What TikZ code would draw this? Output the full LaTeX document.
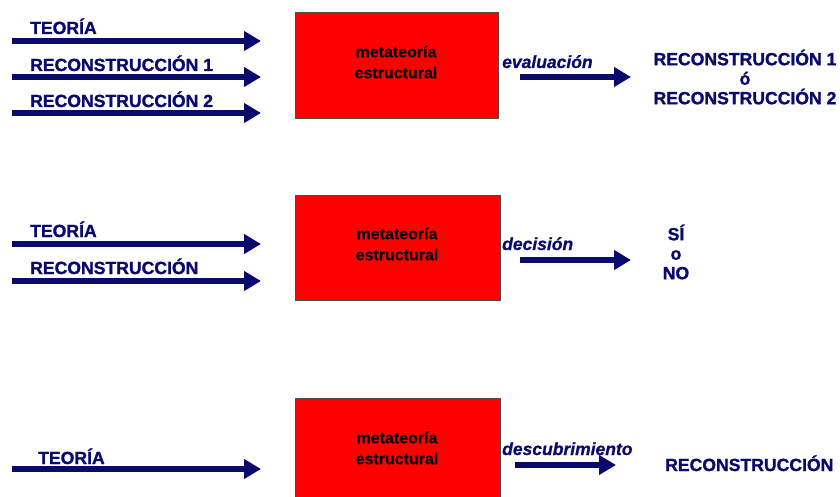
\documentclass[tikz,border=0pt]{standalone}
\usepackage{fontspec}
\setmainfont{Liberation Sans}
\newfontfamily\heavy[FakeBold=1.4]{Liberation Sans Bold}
\newfontfamily\heavyit[FakeBold=0.9]{Liberation Sans Bold Italic}
\newfontfamily\medium[FakeBold=0.3]{Liberation Sans Bold}
\usetikzlibrary{arrows.meta}
\definecolor{navy}{RGB}{10,10,110}
\definecolor{boxred}{RGB}{255,0,0}
\tikzset{
  fat/.style={draw=navy, line width=6.5pt, -{Triangle[length=17pt,width=19pt]}},
  caps/.style={text=navy, font=\heavy\fontsize{17.6}{19.5}\selectfont, inner sep=0pt},
  verb/.style={text=navy, font=\heavyit\fontsize{17.5}{19}\selectfont, inner sep=0pt, anchor=base west},
  meta/.style={draw=black!70, line width=0.8pt, fill=boxred},
  metatext/.style={font=\medium\fontsize{16}{21}\selectfont, align=center, inner sep=0pt}
}
\begin{document}
\begin{tikzpicture}[x=1pt,y=-1pt]
\useasboundingbox (0,0) rectangle (840,497);
% boxes
\node[meta, minimum width=203pt, minimum height=106pt, inner sep=0pt] (b1) at (396.5,65) {};
\node[meta, minimum width=205pt, minimum height=105pt, inner sep=0pt] (b2) at (397.5,247.5) {};
\draw[meta] (295,398) rectangle (500,500);
\coordinate (b3) at (397.5,448);
\node[metatext] (m1) at (396,62) {metateoría\\estructural};
\node[metatext] (m2) at (397,244) {metateoría\\estructural};
\node[metatext] (m3) at (397,448) {metateoría\\estructural};
% row 1 inputs
\coordinate (a1s) at (12,41);  \coordinate (a1e) at (261,41);
\coordinate (a2s) at (12,77);  \coordinate (a2e) at (261,77);
\coordinate (a3s) at (12,113); \coordinate (a3e) at (261,113);
\draw[fat] (a1s) -- (a1e);
\draw[fat] (a2s) -- (a2e);
\draw[fat] (a3s) -- (a3e);
\node[caps, anchor=base west] (t1) at (30,34) {TEORÍA};
\node[caps, anchor=base west] (r1) at (30,71) {RECONSTRUCCIÓN 1};
\node[caps, anchor=base west] (r2) at (30,107) {RECONSTRUCCIÓN 2};
% row 1 output
\coordinate (o1s) at (520,77); \coordinate (o1e) at (631,77);
\draw[fat] (o1s) -- (o1e);
\node[verb] (v1) at (502,68) {evaluación};
\node[caps, align=center] (res1) at (745,77) {RECONSTRUCCIÓN 1\\ó\\RECONSTRUCCIÓN 2};
% row 2 inputs
\coordinate (c1s) at (12,244); \coordinate (c1e) at (261,244);
\coordinate (c2s) at (12,281); \coordinate (c2e) at (261,281);
\draw[fat] (c1s) -- (c1e);
\draw[fat] (c2s) -- (c2e);
\node[caps, anchor=base west] (t2) at (30,237) {TEORÍA};
\node[caps, anchor=base west] (r3) at (30,274) {RECONSTRUCCIÓN};
% row 2 output
\coordinate (o2s) at (520,260); \coordinate (o2e) at (631,260);
\draw[fat] (o2s) -- (o2e);
\node[verb] (v2) at (502,250) {decisión};
\node[caps, align=center] (res2) at (676,252) {SÍ\\o\\NO};
% row 3 input
\coordinate (d1s) at (12,469); \coordinate (d1e) at (261,469);
\draw[fat] (d1s) -- (d1e);
\node[caps, anchor=base west] (t3) at (38,464) {TEORÍA};
% row 3 output
\coordinate (o3s) at (515,465); \coordinate (o3e) at (616,465);
\draw[fat] (o3s) -- (o3e);
\node[verb] (v3) at (502,455) {descubrimiento};
\node[caps, anchor=base west] (res3) at (665,471) {RECONSTRUCCIÓN};
\end{tikzpicture}
\end{document}
